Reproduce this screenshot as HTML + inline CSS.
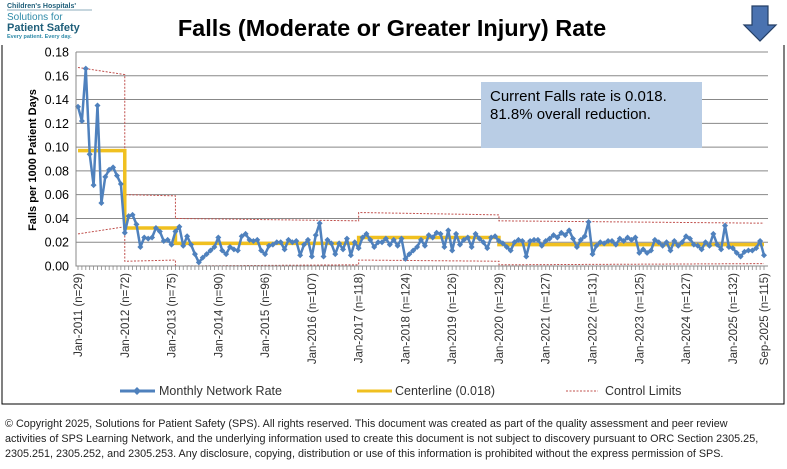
<!DOCTYPE html>
<html><head><meta charset="utf-8"><style>
body{margin:0;background:#fff;width:787px;height:469px;overflow:hidden;font-family:"Liberation Sans",sans-serif}
svg{display:block}
</style></head><body>
<svg id="c" width="787" height="469" xmlns="http://www.w3.org/2000/svg">
<g>
<text x="7" y="8" font-size="7" font-weight="bold" fill="#1f5f7a">Children's Hospitals'</text>
<line x1="7" y1="10" x2="92" y2="10" stroke="#1f5f7a" stroke-width="0.6"/>
<text x="7" y="20" font-size="10" fill="#2e8aa8">Solutions for</text>
<text x="7" y="31" font-size="11" font-weight="bold" fill="#1f5f7a">Patient Safety</text>
<text x="7" y="38" font-size="5.5" font-weight="bold" fill="#2e8aa8">Every patient. Every day.</text>
</g>
<text x="392" y="36" text-anchor="middle" font-size="23.5" font-weight="bold" fill="#000">Falls (Moderate or Greater Injury) Rate</text>
<polygon points="752,6 768,6 768,25 776,25 760,41 744,25 752,25" fill="#4a72b0" stroke="#243f66" stroke-width="1.2"/>
<path d="M2,45 V404 H784 V45" fill="none" stroke="#000" stroke-width="1"/>
<g id="grid"></g>
<g id="limits"></g>
<g id="center"></g>
<g id="series"></g>
<g id="axes"></g>
<g>
<rect x="481" y="82" width="221" height="66" fill="#b9cde5"/>
<text x="490" y="101" font-size="15" fill="#000">Current Falls rate is 0.018.</text>
<text x="490" y="119" font-size="15" fill="#000">81.8% overall reduction.</text>
</g>
<text transform="translate(36,160) rotate(-90)" text-anchor="middle" font-size="11" font-weight="bold">Falls  per 1000 Patient Days</text>
<g font-size="12.5" fill="#333">
<g><line x1="120" y1="391" x2="155" y2="391" stroke="#4f81bd" stroke-width="3"/><path d="M137,387 L141,391 L137,395 L133,391Z" fill="#4f81bd"/><text x="159" y="395">Monthly Network Rate</text></g>
<g><line x1="357" y1="391" x2="392" y2="391" stroke="#f0c020" stroke-width="3"/><text x="395" y="395">Centerline (0.018)</text></g>
<g><line x1="566" y1="391" x2="598" y2="391" stroke="#c0504d" stroke-width="1" stroke-dasharray="2,1.5"/><text x="605" y="395">Control Limits</text></g>
</g>
<g font-size="10.8" fill="#222">
<text x="5" y="427">© Copyright 2025, Solutions for Patient Safety (SPS).  All rights reserved.  This document was created as part of the quality assessment and peer review</text>
<text x="5" y="442">activities of SPS Learning Network, and the underlying information used to create this document is not subject to discovery pursuant to ORC Section 2305.25,</text>
<text x="5" y="457">2305.251, 2305.252, and 2305.253. Any disclosure, copying, distribution or use of this information is prohibited without the express permission of SPS.</text>
</g>
</svg>
<script>
const values=[0.134,0.122,0.166,0.094,0.068,0.135,0.053,0.075,0.081,0.083,0.076,0.069,
0.028,0.042,0.043,0.035,0.016,0.024,0.023,0.024,0.032,0.029,0.021,0.022,
0.018,0.029,0.033,0.017,0.025,0.018,0.010,0.003,0.007,0.010,0.013,0.016,
0.024,0.013,0.010,0.016,0.014,0.013,0.025,0.027,0.022,0.021,0.022,0.013,
0.010,0.017,0.018,0.020,0.020,0.014,0.022,0.020,0.021,0.009,0.018,0.022,
0.008,0.026,0.036,0.008,0.022,0.019,0.010,0.019,0.014,0.023,0.009,0.020,
0.015,0.024,0.027,0.022,0.016,0.020,0.020,0.023,0.018,0.022,0.017,0.023,
0.006,0.010,0.013,0.016,0.022,0.017,0.026,0.024,0.028,0.027,0.016,0.030,
0.013,0.027,0.018,0.022,0.024,0.016,0.027,0.023,0.020,0.015,0.024,0.025,
0.021,0.019,0.016,0.013,0.020,0.022,0.021,0.008,0.021,0.022,0.022,0.017,
0.021,0.023,0.026,0.024,0.028,0.026,0.030,0.023,0.016,0.022,0.025,0.037,
0.010,0.017,0.020,0.019,0.021,0.021,0.018,0.023,0.021,0.024,0.022,0.024,
0.011,0.014,0.011,0.013,0.022,0.020,0.017,0.020,0.013,0.021,0.017,0.020,
0.025,0.023,0.018,0.017,0.014,0.020,0.017,0.027,0.018,0.014,0.034,0.016,
0.015,0.011,0.008,0.012,0.013,0.013,0.015,0.021,0.009];
const phaseStarts=[0,12,25,72,108];
const phaseCenter=[0.097,0.032,0.019,0.024,0.018];
const phaseUclStart=[0.167,0.060,0.040,0.045,0.038];
const phaseUclEnd=[0.161,0.059,0.038,0.043,0.036];
const phaseLclStart=[0.027,0.004,0.000,0.005,0.001];
const phaseLclEnd=[0.033,0.005,0.001,0.004,0.002];
const yTicks=[0,0.02,0.04,0.06,0.08,0.10,0.12,0.14,0.16,0.18];
const xLabelIdx=[0,12,24,36,48,60,72,84,96,108,120,132,144,156,168,176];
const xLabels=["Jan-2011 (n=29)","Jan-2012 (n=72)","Jan-2013 (n=75)","Jan-2014 (n=90)","Jan-2015 (n=96)","Jan-2016 (n=107)","Jan-2017 (n=118)","Jan-2018 (n=124)","Jan-2019 (n=126)","Jan-2020 (n=129)","Jan-2021 (n=127)","Jan-2022 (n=131)","Jan-2023 (n=125)","Jan-2024 (n=127)","Jan-2025 (n=132)","Sep-2025 (n=115)"];
const NS="http://www.w3.org/2000/svg";
const L=76,R=768,T=52,B=266;
const n=values.length;
const x=i=>L+2+i*(R-L-6)/(n-1);
const y=v=>B-(v/0.18)*(B-T);
function mk(tag,attrs,parent){const e=document.createElementNS(NS,tag);for(const k in attrs)e.setAttribute(k,attrs[k]);parent.appendChild(e);return e;}
const grid=document.getElementById('grid'),axes=document.getElementById('axes');
yTicks.forEach(t=>{
  if(t>0){const g=mk('line',{x1:L,x2:R,y1:y(t),y2:y(t),stroke:'#888','stroke-width':1},grid);
  
  }
  const tx=mk('text',{x:L-7,y:y(t)+4.5,'text-anchor':'end','font-size':12.5,fill:'#000'},axes);
  tx.textContent=t.toFixed(2);
  
  
});
const ax=mk('path',{d:`M${L},${T} V${B} H${R}`,fill:'none',stroke:'#888','stroke-width':1},axes);


let td='';for(let i=0;i<n;i++)td+=`M${x(i)},${B} v4 `;
const tk=mk('path',{d:td,stroke:'#888','stroke-width':0.8},axes);


xLabelIdx.forEach((idx,k)=>{
  const t=mk('text',{transform:`translate(${x(idx)+4},273) rotate(-90)`,'text-anchor':'end','font-size':11.5,fill:'#333'},axes);
  t.textContent=xLabels[k];
  
  
});
const lim=document.getElementById('limits'),cen=document.getElementById('center');
let cd='',ud='',ld='';
phaseStarts.forEach((s,p)=>{
  const e=p<phaseStarts.length-1?phaseStarts[p+1]:n-1;
  const x0=x(s),x1=x(e);
  cd+=(p?'L':'M')+x0+','+y(phaseCenter[p])+' L'+x1+','+y(phaseCenter[p])+' ';
  ud+=(p?'L':'M')+x0+','+y(phaseUclStart[p])+' L'+x1+','+y(phaseUclEnd[p])+' ';
  ld+=(p?'L':'M')+x0+','+y(phaseLclStart[p])+' L'+x1+','+y(phaseLclEnd[p])+' ';
});
const u=mk('path',{d:ud,fill:'none',stroke:'#c0504d','stroke-width':1,'stroke-dasharray':'2,1.5'},lim);


const lo=mk('path',{d:ld,fill:'none',stroke:'#c0504d','stroke-width':1,'stroke-dasharray':'2,1.5'},lim);


const c=mk('path',{d:cd,fill:'none',stroke:'#f0c020','stroke-width':3.5},cen);


const ser=document.getElementById('series');
const pts=values.map((v,i)=>x(i)+','+y(v)).join(' ');
const pl=mk('polyline',{points:pts,fill:'none',stroke:'#4f81bd','stroke-width':2.5,'stroke-linejoin':'round'},ser);


values.forEach((v,i)=>{
  const X=x(i),Y=y(v);
  const d=mk('path',{d:`M${X},${Y-3} L${X+3},${Y} L${X},${Y+3} L${X-3},${Y}Z`,fill:'#4f81bd'},ser);
  
  
});
</script>
</body></html>
